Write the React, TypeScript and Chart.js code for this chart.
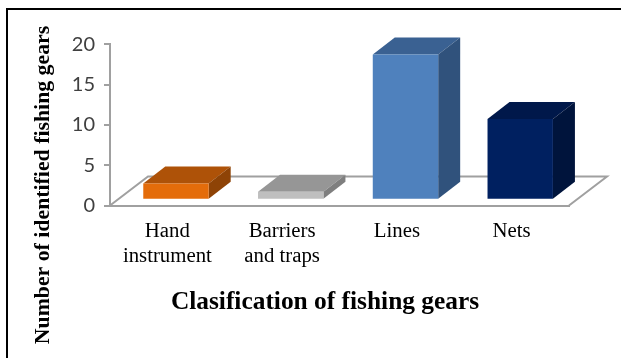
import React, { useEffect, useRef } from "react";
import { Chart, registerables } from "chart.js";

Chart.register(...registerables);

const categories = [["Hand", "instrument"], ["Barriers", "and traps"], ["Lines"], ["Nets"]];
const gearCounts = [2, 1, 18, 10];
const yTicks = [0, 5, 10, 15, 20];
const frontColors = ["#E46C0A", "#BFBFBF", "#4F81BD", "#002060"];
const topColors = ["#AE5208", "#969696", "#3A6192", "#00184A"];
const sideColors = ["#8E4306", "#7F7F7F", "#30527C", "#00143C"];
const xTitle = "Clasification of fishing gears";
const yTitle = "Number of identified fishing gears";

// Oblique projection used for the floor and for the bars standing on it.
const DEPTH_X = 22;
const DEPTH_Y = 17;
const FLOOR_DX = 38;
const FLOOR_DY = 29;
const BAR_SHIFT_X = 8.6;
const BAR_SHIFT_Y = -5.8;

const polygon = (ctx: CanvasRenderingContext2D, pts: number[][], fill: string) => {
  ctx.beginPath();
  pts.forEach(([x, y], i) => (i ? ctx.lineTo(x, y) : ctx.moveTo(x, y)));
  ctx.closePath();
  ctx.fillStyle = fill;
  ctx.fill();
};

const pseudo3d = {
  id: "pseudo3d",
  beforeDraw(chart: any) {
    const { ctx, chartArea: a } = chart;
    ctx.save();
    // Frame around the figure: only the top and left edges are visible.
    ctx.fillStyle = "#000";
    ctx.fillRect(6, 8, 615, 2);
    ctx.fillRect(6, 8, 2, 350);
    // Floor outline.
    ctx.strokeStyle = "#A0A0A0";
    ctx.lineWidth = 2;
    ctx.beginPath();
    ctx.moveTo(a.left, a.bottom);
    ctx.lineTo(a.left + FLOOR_DX, a.bottom - FLOOR_DY);
    ctx.lineTo(a.right + FLOOR_DX, a.bottom - FLOOR_DY);
    ctx.lineTo(a.right, a.bottom);
    ctx.stroke();
    ctx.restore();
  },
  beforeDatasetsDraw(chart: any) {
    const { ctx } = chart;
    ctx.save();
    chart.getDatasetMeta(0).data.forEach((bar: any, i: number) => {
      const left = bar.x - bar.width / 2 + BAR_SHIFT_X;
      const right = bar.x + bar.width / 2 + BAR_SHIFT_X;
      const top = bar.y + BAR_SHIFT_Y;
      const bottom = bar.base + BAR_SHIFT_Y;
      polygon(ctx, [[left, top], [right, top], [right + DEPTH_X, top - DEPTH_Y], [left + DEPTH_X, top - DEPTH_Y]], topColors[i]);
      polygon(ctx, [[right, top], [right + DEPTH_X, top - DEPTH_Y], [right + DEPTH_X, bottom - DEPTH_Y], [right, bottom]], sideColors[i]);
    });
    ctx.restore();
    // The front faces drawn by the library sit on the floor, not on the axis line.
    ctx.save();
    ctx.translate(BAR_SHIFT_X, BAR_SHIFT_Y);
  },
  afterDatasetsDraw(chart: any) {
    const { ctx } = chart;
    ctx.restore();
    ctx.save();
    ctx.fillStyle = "#000";
    ctx.textAlign = "center";
    ctx.textBaseline = "middle";
    ctx.font = "bold 25.4px 'Liberation Serif'";
    ctx.fillText(xTitle, 325, 302);
    ctx.translate(43, 185);
    ctx.rotate(-Math.PI / 2);
    ctx.font = "bold 21.8px 'Liberation Serif'";
    ctx.fillText(yTitle, 0, 0);
    ctx.restore();
  },
};

export default function App() {
  const ref = useRef<HTMLCanvasElement>(null);
  useEffect(() => {
    const chart = new Chart(ref.current!, {
      type: "bar",
      data: {
        labels: categories,
        datasets: [{ data: gearCounts, backgroundColor: frontColors, borderWidth: 0, categoryPercentage: 1, barPercentage: 0.57 }],
      },
      plugins: [pseudo3d],
      options: {
        responsive: false,
        animation: false,
        layout: { padding: { top: 44.3, right: 52, left: 0, bottom: 0 } },
        plugins: { legend: { display: false }, tooltip: { enabled: false }, title: { display: false } },
        scales: {
          x: {
            afterFit: (s: any) => { s.height = 152.5; },
            grid: { display: false },
            border: { color: "#A0A0A0", width: 2 },
            ticks: { color: "#000", padding: 6, maxRotation: 0, autoSkip: false, font: { family: "Liberation Serif", size: 20.8, lineHeight: 1.2 } },
          },
          y: {
            min: 0,
            max: 20,
            afterFit: (s: any) => { s.width = 110; },
            afterBuildTicks: (s: any) => { s.ticks = yTicks.map((value) => ({ value })); },
            grid: { drawOnChartArea: false, tickLength: 6, color: "#A0A0A0", lineWidth: 2 },
            border: { color: "#A0A0A0", width: 2 },
            ticks: { color: "#404040", padding: 9, font: { family: "Lato", size: 20 } },
          },
        },
      },
    });
    return () => chart.destroy();
  }, []);
  return <canvas ref={ref} width={621} height={358} style={{ position: "absolute", left: 0, top: 0, display: "block", background: "#fff" }} />;
}
